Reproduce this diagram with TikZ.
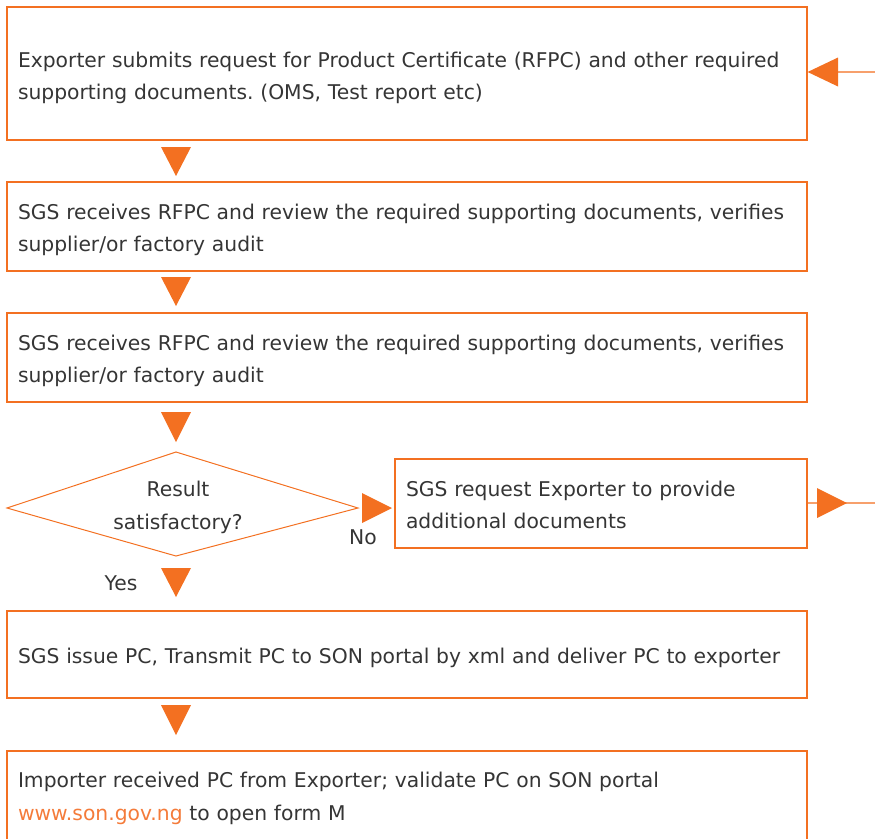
\documentclass[tikz,border=0pt]{standalone}
\usepackage{fontspec}
\setmainfont{DejaVu Sans}
\usetikzlibrary{calc}
\definecolor{sgsorange}{HTML}{F37021}
\definecolor{lineor}{HTML}{F7A06C}
\definecolor{txtgray}{HTML}{353535}
\definecolor{linkor}{HTML}{F47B3A}
\frenchspacing
\begin{document}
\begin{tikzpicture}[x=1pt,y=-1pt,
  txtfont/.style={font=\fontsize{20.3pt}{32.5pt}\selectfont, text=txtgray},
  box/.style={draw=sgsorange, line width=1.2pt, rectangle, inner xsep=11pt, inner ysep=0pt,
    align=left, txtfont, text height=15pt, text depth=29.6pt},
  widebox/.style={box, minimum width=800pt, text width=778pt},
  trifill/.style={fill=sgsorange, draw=none},
  sideline/.style={draw=lineor, line width=1.2pt},
  diamondline/.style={draw=sgsorange, line width=1pt, line join=miter},
  lbl/.style={txtfont, inner sep=0pt, anchor=base}
]
\useasboundingbox (0,0) rectangle (875,838);
\clip (0,0) rectangle (875,838);

% boxes
\node[widebox, minimum height=133pt, text depth=27.4pt] (b1) at (407,73.5)
  {Exporter submits request for Product Certificate (RFPC) and other required\\supporting documents. (OMS, Test report etc)};
\node[widebox, minimum height=89pt] (b2) at (407,226.5)
  {SGS receives RFPC and review the required supporting documents, verifies\\supplier/or factory audit};
\node[widebox, minimum height=89pt] (b3) at (407,357.5)
  {SGS receives RFPC and review the required supporting documents, verifies\\supplier/or factory audit};
\node[box, minimum width=412pt, text width=390pt, minimum height=89pt] (b5) at (601,503.5)
  {SGS request Exporter to provide\\additional documents};
\node[widebox, minimum height=87pt, text height=19pt, text depth=2pt] (b6) at (407,654.5)
  {SGS issue PC, Transmit PC to SON portal by xml and deliver PC to exporter};
\node[widebox, minimum height=100pt, text height=15pt, text depth=42pt] (b7) at (407,801)
  {Importer received PC from Exporter; validate PC on SON portal\\{\color{linkor}www.son.gov.ng} to open form M};

% decision
\coordinate (dl) at (7,508);
\coordinate (dt) at (176,452);
\coordinate (dr) at (358,508);
\coordinate (db) at (176,556);
\draw[diamondline] (dl) -- (dt) -- (dr) -- (db) -- cycle;
\node[txtfont, align=center, inner sep=0pt] (d) at (178,507.5) {Result\\satisfactory?};

% down arrowheads
\fill[trifill] (161,147) -- (191,147) -- (176,176) -- cycle;
\fill[trifill] (161,277) -- (191,277) -- (176,306) -- cycle;
\fill[trifill] (161,412) -- (191,412) -- (176,442) -- cycle;
\fill[trifill] (161,568) -- (191,568) -- (176,597) -- cycle;
\fill[trifill] (161,705) -- (191,705) -- (176,735) -- cycle;

% No arrow
\fill[trifill] (362,493) -- (362,523) -- (392,508) -- cycle;
\node[lbl] (no) at (363,544.3) {No};
\node[lbl] (yes) at (121,590.6) {Yes};

% incoming arrow at top right
\coordinate (inend) at (875,72);
\draw[sideline] (inend) -- (838,72);
\fill[trifill] (b1.east |- 0,72) -- (838,57.5) -- (838,86.5) -- cycle;

% outgoing arrow at right
\coordinate (outend) at (875,503);
\draw[sideline] (b5.east |- 0,503) -- (outend);
\fill[trifill] (817,488) -- (817,518) -- (847,503) -- cycle;
\end{tikzpicture}
\end{document}
